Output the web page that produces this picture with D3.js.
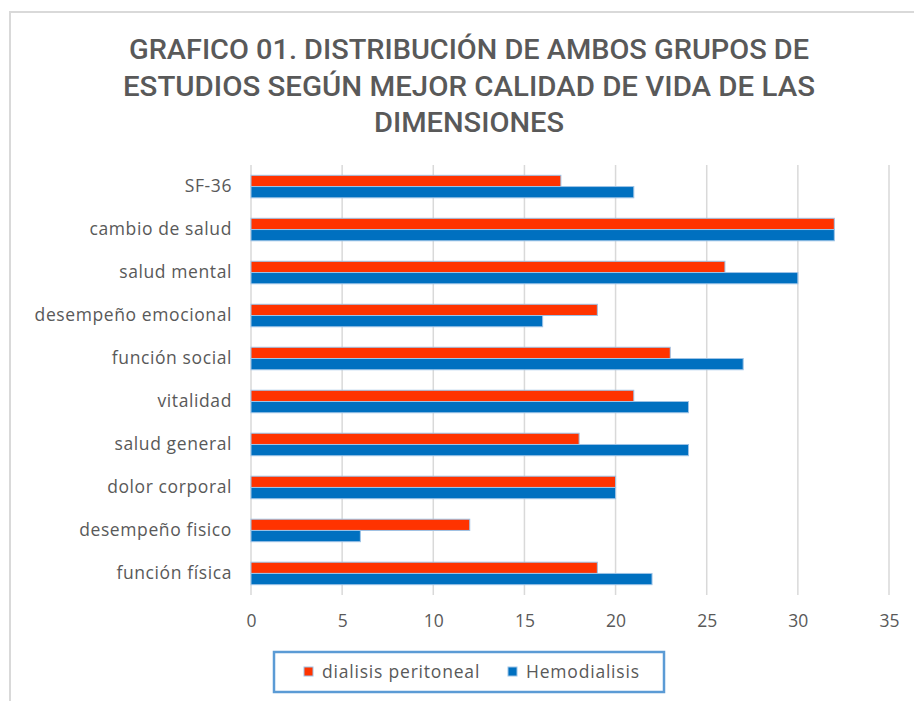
<!DOCTYPE html>
<html>
<head>
<meta charset="utf-8">
<script src="https://cdn.jsdelivr.net/npm/d3@7"></script>
<style>
  body { margin: 0; background: #fff; }
  svg { display: block; }
</style>
</head>
<body>
<svg id="chart" width="914" height="701"></svg>
<script>
(function(d3) {
    'use strict';

    // categories top to bottom
    var categories = ['SF-36', 'cambio de salud', 'salud mental', 'desempeño emocional',
        'función social', 'vitalidad', 'salud general', 'dolor corporal',
        'desempeño fisico', 'función física'];
    var seriesNames = ['dialisis peritoneal', 'Hemodialisis'];
    var peritoneal = [17, 32, 26, 19, 23, 21, 18, 20, 12, 19];
    var hemodialisis = [21, 32, 30, 16, 27, 24, 24, 20, 6, 22];
    var xTicks = [0, 5, 10, 15, 20, 25, 30, 35];
    var titleLines = ['GRAFICO 01. DISTRIBUCIÓN DE AMBOS GRUPOS DE',
        'ESTUDIOS SEGÚN MEJOR CALIDAD DE VIDA DE LAS', 'DIMENSIONES'];

    var colors = ['#ff3300', '#0070c0'];
    var textColor = '#595959';
    var font = '"Open Sans", sans-serif';

    var svg = d3.select('#chart');

    // chart frame
    svg.append('path')
        .attr('d', 'M10,701 V12 H914')
        .attr('fill', 'none')
        .attr('stroke', '#d9d9d9')
        .attr('stroke-width', 2);

    // title
    svg.append('g').selectAll('text')
        .data(titleLines)
        .enter().append('text')
        .attr('x', 469)
        .attr('y', function(d, i) { return 59 + i * 36.5; })
        .attr('text-anchor', 'middle')
        .attr('fill', textColor)
        .attr('font-family', 'Roboto, sans-serif')
        .attr('font-weight', 500)
        .attr('font-size', 28)
        .attr('textLength', function(d, i) { return [680, 692, 190][i]; })
        .attr('lengthAdjust', 'spacingAndGlyphs')
        .text(function(d) { return d; });

    var x = d3.scaleLinear().domain([0, 35]).range([251, 889]);
    var y = d3.scaleBand().domain(categories).range([165, 595])
        .paddingInner(0.477).paddingOuter(0.24);
    var ySub = d3.scaleBand().domain(seriesNames).range([0, y.bandwidth()]);

    // gridlines
    svg.append('g').selectAll('line')
        .data(xTicks)
        .enter().append('line')
        .attr('x1', function(d) { return x(d); })
        .attr('x2', function(d) { return x(d); })
        .attr('y1', 165)
        .attr('y2', 595)
        .attr('stroke', '#d9d9d9')
        .attr('stroke-width', 1.5);

    var rows = categories.map(function(c, i) {
        return [
            {cat: c, key: seriesNames[0], value: peritoneal[i], color: colors[0]},
            {cat: c, key: seriesNames[1], value: hemodialisis[i], color: colors[1]}
        ];
    });

    svg.append('g').selectAll('g')
        .data(rows)
        .enter().append('g')
        .attr('transform', function(d) { return 'translate(0,' + y(d[0].cat) + ')'; })
        .selectAll('rect')
        .data(function(d) { return d; })
        .enter().append('rect')
        .attr('x', x(0))
        .attr('y', function(d) { return ySub(d.key); })
        .attr('width', function(d) { return x(d.value) - x(0); })
        .attr('height', ySub.bandwidth())
        .attr('fill', function(d) { return d.color; })
        .attr('stroke', '#9dc3e6')
        .attr('stroke-width', 1);

    // category labels
    var yAxis = svg.append('g')
        .attr('transform', 'translate(' + x(0) + ',0)')
        .call(d3.axisLeft(y).tickSize(0).tickPadding(19));
    yAxis.select('.domain').remove();
    yAxis.selectAll('text')
        .attr('fill', textColor)
        .attr('font-family', font)
        .attr('font-size', 17.5)
        .attr('letter-spacing', 0.6);

    // value labels
    var xAxis = svg.append('g')
        .attr('transform', 'translate(0,595)')
        .call(d3.axisBottom(x).tickValues(xTicks).tickSize(0).tickPadding(20));
    xAxis.select('.domain').remove();
    xAxis.selectAll('text')
        .attr('fill', textColor)
        .attr('font-family', font)
        .attr('font-size', 17.5);

    // legend
    var legend = svg.append('g');
    legend.append('rect')
        .attr('x', 274)
        .attr('y', 652)
        .attr('width', 390)
        .attr('height', 40)
        .attr('fill', '#fff')
        .attr('stroke', '#5b9bd5')
        .attr('stroke-width', 2.5);

    var legendX = [304, 508];
    var items = legend.selectAll('g.item')
        .data(seriesNames)
        .enter().append('g')
        .attr('class', 'item')
        .attr('transform', function(d, i) { return 'translate(' + legendX[i] + ',667)'; });
    items.append('rect')
        .attr('width', 9)
        .attr('height', 9)
        .attr('fill', function(d, i) { return colors[i]; })
        .attr('stroke', '#9dc3e6')
        .attr('stroke-width', 1);
    items.append('text')
        .attr('x', 18)
        .attr('y', 5)
        .attr('dy', '0.35em')
        .attr('fill', textColor)
        .attr('font-family', font)
        .attr('font-size', 17.5)
        .attr('letter-spacing', 0.8)
        .text(function(d) { return d; });
}(d3));
</script>
</body>
</html>
